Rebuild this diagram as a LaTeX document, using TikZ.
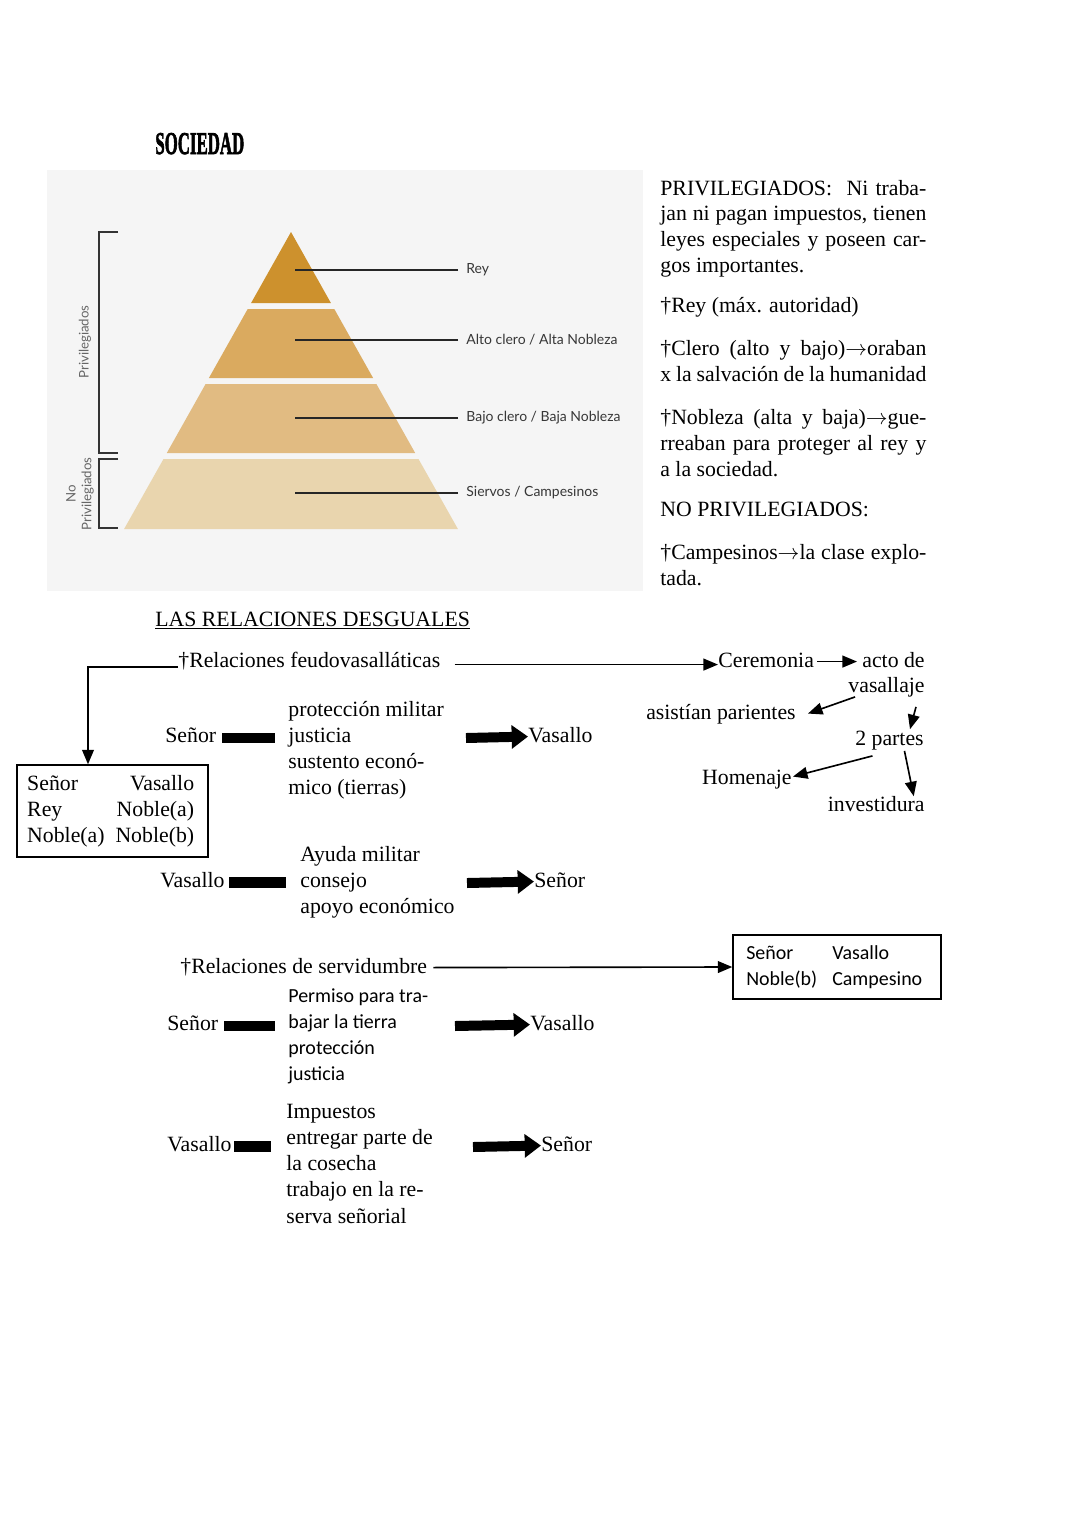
\documentclass[tikz,border=0pt]{standalone}
\usepackage{fontspec}
\setmainfont{Liberation Serif}
\newfontfamily\calfont{Carlito}
\newfontfamily\latofont{Lato}
\newfontfamily\headfont[FakeBold=2.5]{Liberation Serif Bold}
\usetikzlibrary{arrows.meta}
\usepackage{xcolor}
\definecolor{panel}{RGB}{245,245,245}
\definecolor{tierA}{RGB}{205,145,45}
\definecolor{tierB}{RGB}{218,170,95}
\definecolor{tierC}{RGB}{225,187,130}
\definecolor{tierD}{RGB}{233,213,174}
\definecolor{labelgray}{RGB}{55,55,55}
\newcommand\jline[1]{\makebox[146.6pt][s]{#1}}

\begin{document}
\begin{tikzpicture}[x=0.551pt,y=-0.551pt,>={Triangle[length=8pt,width=6.5pt]},
  font=\fontsize{12}{14.3}\selectfont,
  txt/.style={anchor=base west,inner sep=0pt,text height=8.5pt,text depth=2.5pt},
  txtr/.style={txt,anchor=base east},
  cal/.style={txt,font=\calfont\fontsize{11}{13}\selectfont},
  lbl/.style={anchor=west,inner sep=0pt,font=\latofont\fontsize{7.7}{9.2}\selectfont,text=labelgray},
  sidelbl/.style={rotate=90,align=center,inner sep=0pt,font=\latofont\fontsize{7.3}{8.6}\selectfont,text=gray!80!black},
  leader/.style={line width=0.7pt,black!85},
  brack/.style={line width=0.8pt,black!80},
  thinarrow/.style={->,line width=0.9pt},
  fatarrow/.style={-{Triangle[length=9pt,width=12.5pt]},line width=5.5pt},
  boxed/.style={draw,line width=0.8pt,inner sep=0pt}]
\useasboundingbox (0,0) rectangle (1080,1527);
\fill[white] (0,0) rectangle (1080,1527);

% sociedad
\node[txt] (tit) at (155,154) {\scalebox{0.53}[1]{\fontsize{17.5}{18}\headfont SOCIEDAD}};
\fill[panel] (47,170) rectangle (643,591);
\fill[tierA] (291,232) -- (330.9,303) -- (251.1,303) -- cycle;
\fill[tierB] (247.7,309) -- (334.3,309) -- (373.1,378) -- (208.9,378) -- cycle;
\fill[tierC] (205.6,384) -- (376.4,384) -- (415.2,453) -- (166.8,453) -- cycle;
\fill[tierD] (163.5,459) -- (418.5,459) -- (457.9,529) -- (124.1,529) -- cycle;
\node[lbl] (lRey) at (466,270) {Rey};
\node[lbl] (lAlto) at (466,340) {Alto clero / Alta Nobleza};
\node[lbl] (lBajo) at (466,418) {Bajo clero / Baja Nobleza};
\node[lbl] (lSiervos) at (466,493) {Siervos / Campesinos};
\draw[leader] (lRey.west) ++(-8,0) -- ++(-163,0);
\draw[leader] (lAlto.west) ++(-8,0) -- ++(-163,0);
\draw[leader] (lBajo.west) ++(-8,0) -- ++(-163,0);
\draw[leader] (lSiervos.west) ++(-8,0) -- ++(-163,0);
\draw[brack] (118,232) -- (99,232) -- (99,453) -- (118,453);
\draw[brack] (118,459) -- (99,459) -- (99,528) -- (118,528);
\node[sidelbl] (priv) at (85,342) {Privilegiados};
\node[sidelbl] (nopriv) at (80,494) {No\\Privilegiados};

% texto a la derecha
\node[txt] (t1) at (660,195) {\jline{PRIVILEGIADOS:\ \ Ni traba-}};
\node[txt] (t2) at (660,220) {\jline{jan ni pagan impuestos, tienen}};
\node[txt] (t3) at (660,246) {\jline{leyes especiales y poseen car-}};
\node[txt] (t4) at (660,272) {gos importantes.};
\node[txt] (t5) at (660,312) {†Rey (máx. autoridad)};
\node[txt] (t6) at (660,355) {\jline{†Clero (alto y bajo)$\rightarrow$oraban}};
\node[txt] (t7) at (660,381) {\jline{x la salvación de la humanidad}};
\node[txt] (t8) at (660,424) {\jline{†Nobleza (alta y baja)$\rightarrow$gue-}};
\node[txt] (t9) at (660,450) {\jline{rreaban para proteger al rey y}};
\node[txt] (t10) at (660,476) {a la sociedad.};
\node[txt] (t11) at (660,516) {NO PRIVILEGIADOS:};
\node[txt] (t12) at (660,559) {\jline{†Campesinos$\rightarrow$la clase explo-}};
\node[txt] (t13) at (660,585) {tada.};

% relaciones feudovasallaticas
\node[txt] (rel) at (155,626) {\underline{LAS RELACIONES DESGUALES}};
\node[txt] (feudo) at (178,667) {†Relaciones feudovasalláticas};
\node[boxed,minimum width=105.2pt,minimum height=50.7pt] (box1) at (112.5,811)
  {\begin{tabular}{@{}l@{\hspace{6pt}}r@{\hspace{2pt}}}Señor & Vasallo\\ Rey & Noble(a)\\ Noble(a) & Noble(b)\end{tabular}};
\draw[thinarrow] (feudo.base west) -| ([shift={(-24.5,0)}]box1.north);

\node[txt] (cere) at (718,667) {Ceremonia};
\node[txtr] (acto) at (925,667) {acto de};
\node[txtr] (vasa) at (925,692) {vasallaje};
\node[txtr] (asis) at (796,719) {asistían parientes};
\node[txtr] (partes) at (924,745) {2 partes};
\node[txtr] (homen) at (792,784) {Homenaje};
\node[txtr] (invest) at (925,811) {investidura};
\draw[thinarrow] ([shift={(14,3)}]feudo.east) -- ([shift={(0,3)}]cere.west);
\draw[thinarrow] ([shift={(3,0)}]cere.east) -- ([shift={(-5,0)}]acto.west);
\draw[thinarrow] ([shift={(7,0)}]vasa.south west) -- ([shift={(12,0)}]asis.east);
\draw[thinarrow] ([shift={(-9,10)}]vasa.south east) -- ([shift={(-14,0)}]partes.north east);
\draw[thinarrow] ([shift={(-17,6)}]partes.south) -- ([shift={(1,-2)}]homen.east);
\draw[thinarrow] ([shift={(15,1)}]partes.south) -- ([shift={(37.5,1)}]invest.north);

\node[txt] (senA) at (165,742) {Señor};
\fill (222,733) rectangle (275,743);
\node[txt] (pA1) at (288,716) {protección militar};
\node[txt] (pA2) at (288,742) {justicia};
\node[txt] (pA3) at (288,768) {sustento econó-};
\node[txt] (pA4) at (288,794) {mico (tierras)};
\coordinate (fromA) at (466,738);
\node[txt] (vasA) at (528,742) {Vasallo};
\draw[fatarrow] (fromA) -- (vasA.west);

\node[txt] (vasB) at (160,887) {Vasallo};
\fill (229,877) rectangle (286,888);
\node[txt] (pB1) at (300,861) {Ayuda militar};
\node[txt] (pB2) at (300,887) {consejo};
\node[txt] (pB3) at (300,913) {apoyo económico};
\coordinate (fromB) at (467,883);
\node[txt] (senB) at (534,887) {Señor};
\draw[fatarrow] (fromB) -- (senB.west);

% relaciones de servidumbre
\node[txt] (serv) at (180,973) {†Relaciones de servidumbre};
\node[boxed,minimum width=114.6pt,minimum height=35.3pt] (box2) at (837,967)
  {\calfont\fontsize{11}{14.3}\selectfont\begin{tabular}{@{}l@{\hspace{8.3pt}}l@{\hspace{3pt}}}Señor & Vasallo\\ Noble(b) & Campesino\end{tabular}};
\draw[thinarrow] ([shift={(6,0)}]serv.east) -- (box2.west);

\node[txt] (senC) at (167,1030) {Señor};
\fill (224,1021) rectangle (275,1031);
\node[cal] (pC1) at (288,1002) {Permiso para tra-};
\node[cal] (pC2) at (288,1028) {bajar la tierra};
\node[cal] (pC3) at (288,1054) {protección};
\node[cal] (pC4) at (288,1080) {justicia};
\coordinate (fromC) at (455,1026);
\node[txt] (vasC) at (530,1030) {Vasallo};
\draw[fatarrow] (fromC) -- (vasC.west);

\node[txt] (vasD) at (167,1151) {Vasallo};
\fill (234,1141) rectangle (271,1152);
\node[txt] (pD1) at (286,1118) {Impuestos};
\node[txt] (pD2) at (286,1144) {entregar parte de};
\node[txt] (pD3) at (286,1170) {la cosecha};
\node[txt] (pD4) at (286,1196) {trabajo en la re-};
\node[txt] (pD5) at (286,1223) {serva señorial};
\coordinate (fromD) at (473,1147);
\node[txt] (senD) at (541,1151) {Señor};
\draw[fatarrow] (fromD) -- (senD.west);
\end{tikzpicture}
\end{document}
